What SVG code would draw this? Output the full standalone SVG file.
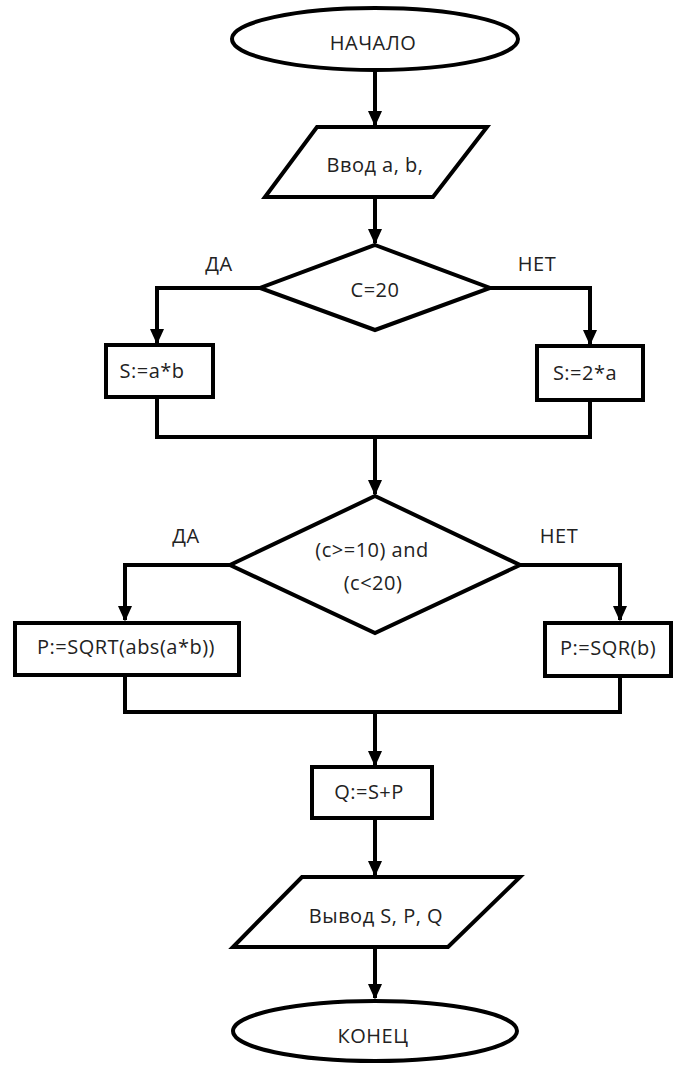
<svg xmlns="http://www.w3.org/2000/svg" width="674" height="1065" viewBox="0 0 674 1065">
<defs>
<marker id="arr" markerWidth="4" markerHeight="4" refX="3.6" refY="2" orient="auto" markerUnits="strokeWidth">
<path d="M0,0.2 L4,2 L0,3.8 Z" fill="#000"/>
</marker>
<style>
.s{fill:#fff;stroke:#000;stroke-width:4}
.c{fill:none;stroke:#000;stroke-width:4}
.t{font-family:"Open Sans","Liberation Sans",sans-serif;font-size:20px;letter-spacing:0.5px;fill:#222;text-anchor:middle}
</style>
</defs>
<rect width="674" height="1065" fill="#fff"/>
<g id="connectors">
<path class="c" d="M375,70 V125" marker-end="url(#arr)"/>
<path class="c" d="M375,197 V243" marker-end="url(#arr)"/>
<path class="c" d="M260,288 H157 V343" marker-end="url(#arr)"/>
<path class="c" d="M490,288 H590 V344" marker-end="url(#arr)"/>
<path class="c" d="M157,397 V437 H590 V400"/>
<path class="c" d="M375,437 V494" marker-end="url(#arr)"/>
<path class="c" d="M230,565 H125 V620" marker-end="url(#arr)"/>
<path class="c" d="M520,565 H620 V620" marker-end="url(#arr)"/>
<path class="c" d="M125,676 V712 H620 V676"/>
<path class="c" d="M375,712 V765" marker-end="url(#arr)"/>
<path class="c" d="M375,818 V875" marker-end="url(#arr)"/>
<path class="c" d="M375,947 V998" marker-end="url(#arr)"/>
<text class="t" x="219" y="271">ДА</text>
<text class="t" x="537" y="271">НЕТ</text>
<text class="t" x="186" y="543">ДА</text>
<text class="t" x="559" y="543">НЕТ</text>
</g>
<g id="start">
<ellipse class="s" cx="375" cy="39" rx="143" ry="31"/>
<text class="t" x="373" y="50">НАЧАЛО</text>
</g>
<g id="input">
<polygon class="s" points="317,127 487,127 433,197 265,197"/>
<text class="t" x="375" y="172">Ввод a, b,</text>
</g>
<g id="cond1">
<polygon class="s" points="375,245 490,288 375,330 260,288"/>
<text class="t" x="375" y="297">C=20</text>
</g>
<g id="s1">
<rect class="s" x="106" y="345" width="107" height="52"/>
<text class="t" x="152" y="378">S:=a*b</text>
</g>
<g id="s2">
<rect class="s" x="537" y="346" width="106" height="54"/>
<text class="t" x="585" y="380">S:=2*a</text>
</g>
<g id="cond2">
<polygon class="s" points="375,496 520,565 375,633 230,565"/>
<text class="t" x="372" y="557">(c&gt;=10) and</text>
<text class="t" x="373" y="590">(c&lt;20)</text>
</g>
<g id="p1">
<rect class="s" x="15" y="623" width="224" height="52"/>
<text class="t" x="126" y="654">P:=SQRT(abs(a*b))</text>
</g>
<g id="p2">
<rect class="s" x="545" y="623" width="126" height="53"/>
<text class="t" x="608" y="655">P:=SQR(b)</text>
</g>
<g id="q">
<rect class="s" x="312" y="767" width="120" height="51"/>
<text class="t" x="369" y="799">Q:=S+P</text>
</g>
<g id="output">
<polygon class="s" points="302,877 520,877 448,947 233,947"/>
<text class="t" x="376" y="923">Вывод S, P, Q</text>
</g>
<g id="end">
<ellipse class="s" cx="375" cy="1031" rx="142" ry="30"/>
<text class="t" x="373" y="1043">КОНЕЦ</text>
</g>
</svg>
